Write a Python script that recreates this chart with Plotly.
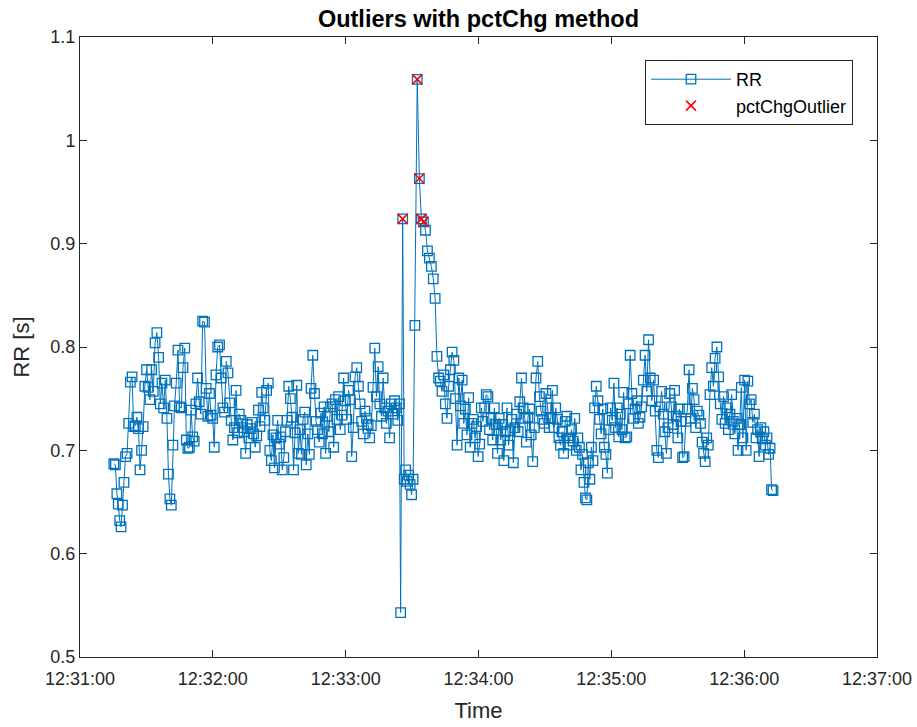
import pandas as pd
import numpy as np
import plotly.graph_objects as go

# ---- data (RR intervals in seconds) ----
start_time = "2024-01-01 12:31:15.3"

rr_seg1 = [0.687, 0.686, 0.658, 0.648, 0.632, 0.626, 0.647, 0.669, 0.694, 0.697,
           0.726, 0.766, 0.771, 0.723, 0.724, 0.732, 0.721, 0.681, 0.700, 0.723,
           0.762, 0.778, 0.761, 0.749, 0.778, 0.757, 0.804, 0.814, 0.790, 0.745,
           0.765, 0.741]
rr_seg2 = [0.768, 0.731, 0.677, 0.653, 0.647, 0.705, 0.743, 0.765, 0.797, 0.742,
           0.741, 0.780, 0.799, 0.710, 0.702, 0.703, 0.739, 0.713, 0.709, 0.745,
           0.770, 0.747, 0.735, 0.825, 0.824, 0.760, 0.733, 0.755, 0.734]
rr_seg3 = [0.731, 0.703, 0.773, 0.800, 0.802, 0.770, 0.741, 0.737, 0.786, 0.775,
           0.746, 0.729, 0.710, 0.722, 0.758, 0.717, 0.735, 0.729, 0.722, 0.718,
           0.697, 0.725, 0.712, 0.721, 0.727, 0.716, 0.703, 0.714, 0.739, 0.723]
rr_seg4 = [0.756, 0.741, 0.729, 0.758, 0.765, 0.700, 0.690, 0.715, 0.683, 0.712,
           0.729, 0.706, 0.713, 0.681, 0.693, 0.718, 0.729, 0.762, 0.750, 0.732,
           0.681, 0.717, 0.763, 0.697, 0.720, 0.696, 0.730, 0.737, 0.686, 0.716,
           0.696, 0.760, 0.792, 0.755, 0.728, 0.720, 0.708, 0.736, 0.716, 0.742,
           0.697, 0.733, 0.718, 0.742, 0.745, 0.703, 0.749, 0.730, 0.752, 0.720,
           0.734, 0.770, 0.748]
rr_seg5 = [0.730, 0.758, 0.749, 0.694, 0.722, 0.771, 0.780, 0.762, 0.745, 0.728,
           0.716, 0.738, 0.731, 0.725, 0.712, 0.724, 0.761, 0.799, 0.752, 0.781,
           0.745, 0.733, 0.770, 0.741, 0.726, 0.738, 0.712, 0.745, 0.735, 0.748,
           0.741, 0.729, 0.745]
rr_spike = [0.543, 0.924, 0.672, 0.681, 0.670, 0.676, 0.667, 0.657, 0.672,
            0.821, 1.059, 0.963, 0.924, 0.921, 0.913, 0.893, 0.886, 0.878,
            0.866, 0.847]
rr_seg6 = [0.791, 0.770, 0.767, 0.757, 0.773, 0.745, 0.731, 0.762, 0.778, 0.795,
           0.787, 0.750, 0.705, 0.770, 0.743, 0.768, 0.726, 0.740, 0.715, 0.751,
           0.703, 0.726, 0.730, 0.712, 0.723, 0.694, 0.706, 0.741]
rr_seg7 = [0.728, 0.741, 0.754, 0.752, 0.720, 0.731, 0.710, 0.741, 0.725, 0.697,
           0.731, 0.710, 0.725, 0.690, 0.718, 0.741, 0.705, 0.719, 0.730, 0.688,
           0.722, 0.735, 0.718, 0.747, 0.770, 0.741, 0.731, 0.708, 0.732, 0.740,
           0.715, 0.689, 0.722, 0.770, 0.786, 0.752, 0.738, 0.730, 0.726, 0.755,
           0.741, 0.722]
rr_seg8 = [0.731, 0.758, 0.722, 0.741, 0.730, 0.712, 0.705, 0.718, 0.697,
           0.728, 0.733, 0.705, 0.712, 0.720, 0.709, 0.731, 0.700, 0.712, 0.703,
           0.681, 0.696, 0.669, 0.654, 0.652, 0.688, 0.672, 0.703, 0.690, 0.741,
           0.762, 0.748, 0.730, 0.716, 0.740, 0.703, 0.696, 0.678, 0.720, 0.741,
           0.729]
rr_seg9 = [0.765, 0.722, 0.741, 0.713, 0.735, 0.720, 0.756, 0.712, 0.713, 0.745,
           0.792, 0.755, 0.731, 0.740, 0.748, 0.726, 0.732, 0.742, 0.768,
           0.792, 0.757, 0.807, 0.770, 0.748, 0.768, 0.738, 0.700, 0.693, 0.742,
           0.757, 0.735, 0.718, 0.697, 0.722, 0.755, 0.742, 0.725, 0.758, 0.733,
           0.712, 0.740, 0.728]
rr_seg10 = [0.693, 0.694, 0.728, 0.740, 0.778, 0.731, 0.760, 0.749, 0.722, 0.738,
            0.734, 0.726, 0.708, 0.697, 0.689, 0.712, 0.705, 0.754, 0.780,
            0.762, 0.789, 0.800, 0.771, 0.745, 0.730, 0.752, 0.726, 0.741, 0.720,
            0.735, 0.754, 0.728, 0.716, 0.731, 0.700, 0.725, 0.761, 0.712, 0.768]
rr_seg11 = [0.700, 0.767, 0.745, 0.749, 0.727, 0.735, 0.712, 0.720, 0.694, 0.722,
            0.711, 0.718, 0.705, 0.712, 0.696, 0.702, 0.662, 0.661]

# values flagged by the pctChg method (position within rr_spike)
outlier_idx_in_spike = [1, 10, 11, 12, 13]

rr = (rr_seg1 + rr_seg2 + rr_seg3 + rr_seg4 + rr_seg5 + rr_spike +
      rr_seg6 + rr_seg7 + rr_seg8 + rr_seg9 + rr_seg10 + rr_seg11)
offset = len(rr_seg1 + rr_seg2 + rr_seg3 + rr_seg4 + rr_seg5)
outlier_idx = [offset + i for i in outlier_idx_in_spike]

# beat times: first beat at start_time, then each beat after its RR interval
rr_arr = np.array(rr)
elapsed = np.concatenate([[0.0], np.cumsum(rr_arr[1:])])
times = pd.Timestamp(start_time) + pd.to_timedelta(elapsed, unit="s")

out_times = times[outlier_idx]
out_vals = [rr[i] for i in outlier_idx]

x_ticks = pd.date_range("2024-01-01 12:31:00", "2024-01-01 12:37:00", freq="1min")
y_ticks = [0.5, 0.6, 0.7, 0.8, 0.9, 1.0, 1.1]
y_tick_text = ["0.5", "0.6", "0.7", "0.8", "0.9", "1", "1.1"]

blue = "#0072BD"
axis_col = "#262626"
font_family = "Liberation Sans, Arial, sans-serif"

fig = go.Figure()
fig.add_trace(go.Scatter(
    x=times, y=rr, mode="lines+markers", name="RR",
    line=dict(color=blue, width=1),
    marker=dict(symbol="square-open", size=9.5, color=blue, line=dict(width=1.3, color=blue)),
))
fig.add_trace(go.Scatter(
    x=out_times, y=out_vals, mode="markers", name="pctChgOutlier",
    marker=dict(symbol="x-thin-open", size=10, color="#FF0000", line=dict(width=1.5, color="#FF0000")),
))

fig.update_layout(
    width=917, height=727,
    paper_bgcolor="white", plot_bgcolor="white",
    margin=dict(l=80, r=40, t=37, b=70),
    font=dict(family=font_family, size=18, color=axis_col),
    title=dict(text="<b>Outliers with pctChg method</b>", x=(80 + 877) / 2 / 917, xanchor="center",
               y=1 - 19 / 727, yanchor="middle", font=dict(size=23.5, color="black")),
    showlegend=True,
    legend=dict(x=(853 - 80) / 797, y=1 - (60 - 37) / 620, xanchor="right", yanchor="top",
                bordercolor=axis_col, borderwidth=1, bgcolor="white",
                font=dict(size=18, color="black"), tracegroupgap=0, itemwidth=80),
)
fig.update_xaxes(
    range=[x_ticks[0], x_ticks[-1]], tickvals=x_ticks, tickformat="%H:%M:%S",
    showgrid=False, zeroline=False, showline=True, linecolor=axis_col, linewidth=1,
    mirror="ticks", ticks="inside", ticklen=7, tickcolor=axis_col,
    tickfont=dict(size=18, color=axis_col), automargin=False, ticklabelstandoff=5,
    title=dict(text="Time", font=dict(size=22, color=axis_col), standoff=15),
)
fig.update_yaxes(
    range=[0.5, 1.1], tickvals=y_ticks, ticktext=y_tick_text,
    showgrid=False, zeroline=False, showline=True, linecolor=axis_col, linewidth=1,
    mirror="ticks", ticks="inside", ticklen=7, tickcolor=axis_col,
    tickfont=dict(size=18, color=axis_col), automargin=False,
    title=dict(text="RR [s]", font=dict(size=22, color=axis_col), standoff=14),
)

fig.write_html("out.html", config={"displayModeBar": False},
               post_script="document.body.style.margin='0px';")
